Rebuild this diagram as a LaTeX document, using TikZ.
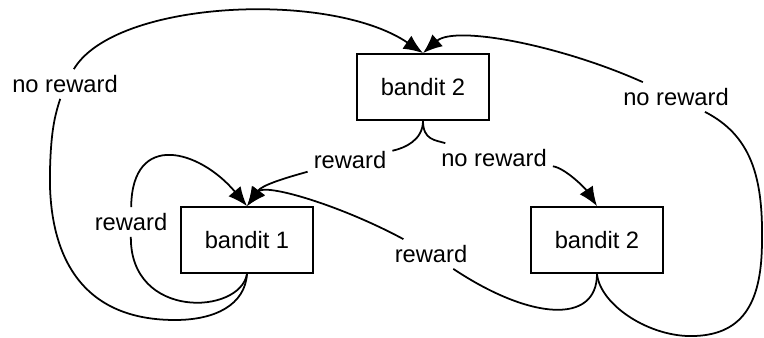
\documentclass[tikz,border=0pt]{standalone}
\usepackage{fontspec}
\setmainfont{Liberation Sans}
\usetikzlibrary{arrows.meta}

\begin{document}
\begin{tikzpicture}[x=0.02cm, y=-0.02cm, every node/.style={font=\fontsize{13.5}{16}\selectfont}, every path/.style={line width=1pt}, bandit/.style={rectangle, draw, minimum width=2.64cm, minimum height=1.32cm}, lab/.style={inner sep=3pt}, tip/.style={-{Latex[length=11pt, width=9pt]}}]
        
        \useasboundingbox (0,0) rectangle (764,338);
        
        \node[bandit] (1) at (423,87) {bandit 2};
        \node[bandit] (2) at (247,240) {bandit 1};
        \node[bandit] (3) at (597,240) {bandit 2};
        
        \node[lab] (4) at (65,84) {no reward};
        \node[lab] (5) at (350,160) {reward};
        \node[lab] (6) at (494,158) {no reward};
        \node[lab] (7) at (131,222) {reward};
        \node[lab] (8) at (431,254) {reward};
        \node[lab] (9) at (676,97) {no reward};
        
        \draw (1.south) .. controls (423,140) and (405,148) .. (5);
        \draw[tip] (5) .. controls (285,178) and (262,185) .. (2.north);
        \draw (1.south) .. controls (423,140) and (435,140) .. (6);
        \draw[tip] (6) .. controls (565,168) and (585,188) .. (3.north);
        \draw (2.south) .. controls (240,315) and (130,320) .. (7);
        \draw[tip] (7) .. controls (132,130) and (200,150) .. (2.north);
        \draw (2.south) .. controls (245,305) and (215,320) .. (175,320) .. controls (70,320) and (48,240) .. (50,170) .. controls (51,130) and (55,115) .. (4);
        \draw[tip] (4) .. controls (115,0) and (330,-10) .. (1.north);
        \draw (3.south) .. controls (597,325) and (530,320) .. (8);
        \draw[tip] (8) .. controls (340,205) and (265,183) .. (2.north);
        \draw (3.south) .. controls (600,305) and (650,338) .. (695,336) .. controls (745,334) and (762,300) .. (762,240) .. controls (763,175) and (750,135) .. (9);
        \draw[tip] (9) .. controls (560,45) and (455,25) .. (1.north);
        
        \end{tikzpicture}
\end{document}
